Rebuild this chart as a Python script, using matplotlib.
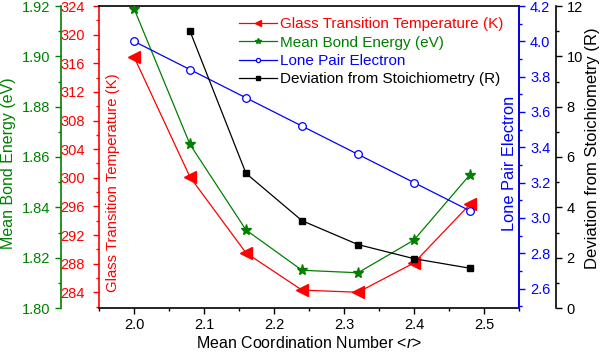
import numpy as np
import matplotlib
matplotlib.use("Agg")
import matplotlib.pyplot as plt
from matplotlib.ticker import MultipleLocator, FormatStrFormatter

plt.rcParams['font.family'] = ['Liberation Sans', 'DejaVu Sans']
plt.rcParams['mathtext.fontset'] = 'custom'
plt.rcParams['mathtext.it'] = 'Liberation Sans:italic'
plt.rcParams['font.size'] = 10.5

# data
r_mean = [2.00, 2.08, 2.16, 2.24, 2.32, 2.40, 2.48]
tg = [316.9, 300.1, 289.5, 284.3, 284.0, 288.1, 296.3]
bond_energy = [1.919, 1.865, 1.831, 1.815, 1.814, 1.827, 1.853]
lone_pair = [4.00, 3.84, 3.68, 3.52, 3.36, 3.20, 3.04]
r_stoich = [2.08, 2.16, 2.24, 2.32, 2.40, 2.48]
deviation = [11.0, 5.35, 3.47, 2.52, 1.96, 1.58]

red = '#ff0000'
green = '#008000'
blue = '#0000ff'
black = '#000000'

fig = plt.figure(figsize=(6.05, 3.56), dpi=100)
ax = fig.add_axes([99 / 605, 48 / 356, 420 / 605, 302 / 356])
ax_g = ax.twinx()
ax_b = ax.twinx()
ax_k = ax.twinx()

# red axis = main left; green moved further left
ax_g.yaxis.set_ticks_position('left')
ax_g.yaxis.set_label_position('left')
ax_g.spines['left'].set_position(('axes', -38 / 420))
ax_g.spines['left'].set_visible(True)
ax_g.spines['right'].set_visible(False)
ax_k.spines['right'].set_position(('axes', 457 / 420))

l1, = ax.plot(r_mean, tg, color=red, marker='<', ms=8, lw=0.9, zorder=3)
l2, = ax_g.plot(r_mean, bond_energy, color=green, marker='*', ms=8, lw=0.9)
l3, = ax_b.plot(r_mean, lone_pair, color=blue, marker='o', ms=5.5, mfc='white', mew=0.9, lw=0.9)
l4, = ax_k.plot(r_stoich, deviation, color=black, marker='s', ms=5, lw=0.9)

ax.set_xlim(1.95, 2.55)
ax.set_ylim(281.8, 324)
ax_g.set_ylim(1.80, 1.92)
ax_b.set_ylim(2.49, 4.2)
ax_k.set_ylim(0, 12)

ax.xaxis.set_major_locator(MultipleLocator(0.1))
ax.xaxis.set_minor_locator(MultipleLocator(0.05))
ax.yaxis.set_major_locator(MultipleLocator(4))
ax.yaxis.set_minor_locator(MultipleLocator(2))
ax_g.yaxis.set_major_locator(MultipleLocator(0.02))
ax_g.yaxis.set_minor_locator(MultipleLocator(0.01))
ax_b.yaxis.set_major_locator(MultipleLocator(0.2))
ax_b.yaxis.set_minor_locator(MultipleLocator(0.1))
ax_k.yaxis.set_major_locator(MultipleLocator(2))
ax_k.yaxis.set_minor_locator(MultipleLocator(1))

ax.xaxis.set_major_formatter(FormatStrFormatter('%.1f'))
ax_g.yaxis.set_major_formatter(FormatStrFormatter('%.2f'))
ax_b.yaxis.set_major_formatter(FormatStrFormatter('%.1f'))

ax.tick_params(axis='x', which='major', length=4, width=1, pad=3.5, top=False)
ax.tick_params(axis='x', which='minor', length=2.5, width=1, top=False)
ax.tick_params(axis='y', which='major', length=4, width=1, pad=6, colors=red)
ax.tick_params(axis='y', which='minor', length=2.5, width=1, colors=red)
ax.tick_params(axis='y', right=False, which='both')
ax_g.tick_params(axis='y', which='major', length=4.5, width=1, pad=3, colors=green)
ax_g.tick_params(axis='y', which='minor', length=2.5, width=1, colors=green)
ax_b.tick_params(axis='y', which='major', length=4, width=1, pad=4, colors=blue)
ax_b.tick_params(axis='y', which='minor', length=2.5, width=1, colors=blue)
ax_k.tick_params(axis='y', which='major', length=4.5, width=1, pad=3, colors=black)
ax_k.tick_params(axis='y', which='minor', length=2.5, width=1, colors=black)

for a in (ax, ax_g, ax_b, ax_k):
    for s in a.spines.values():
        s.set_linewidth(1.2)
ax.spines['left'].set_color(red)
ax_g.spines['left'].set_color(green)
ax_b.spines['right'].set_color(blue)
ax_k.spines['right'].set_color(black)
for a in (ax_g, ax_b, ax_k):
    a.spines['top'].set_visible(False)
    a.spines['bottom'].set_visible(False)
ax_b.spines['left'].set_visible(False)
ax_k.spines['left'].set_visible(False)

ax.set_xlabel('Mean Coordination Number <$\\it{r}$>', fontsize=11.5, labelpad=2)

# y-axis labels, placed as in the original (two of them sit inside the frame)
ax.text(14 / 420, 0.414, 'Glass Transition Temperature (K)', color=red, rotation=90,
        ha='center', va='center', transform=ax.transAxes, fontsize=10.7)
ax.text(-90 / 420, 0.48, 'Mean Bond Energy (eV)', color=green, rotation=90,
        ha='center', va='center', transform=ax.transAxes, fontsize=11.5)
ax.text(410 / 420, 0.48, 'Lone Pair Electron', color=blue, rotation=90,
        ha='center', va='center', transform=ax.transAxes, fontsize=11.8)
ax.text(494 / 420, 0.53, 'Deviation from Stoichiometry (R)', color=black, rotation=90,
        ha='center', va='center', transform=ax.transAxes, fontsize=12)

labels = ['Glass Transition Temperature (K)', 'Mean Bond Energy (eV)',
          'Lone Pair Electron', 'Deviation from Stoichiometry (R)']
leg = ax_k.legend([l1, l2, l3, l4], labels, loc='upper left',
                  bbox_to_anchor=(140 / 420, 0.962), frameon=False, fontsize=11,
                  handlelength=2.5, handletextpad=0.2, labelspacing=0.28, borderpad=0,
                  borderaxespad=0, markerscale=0.55)
for txt, c in zip(leg.get_texts(), [red, green, blue, black]):
    txt.set_color(c)

fig.savefig('out.png', dpi=100)
